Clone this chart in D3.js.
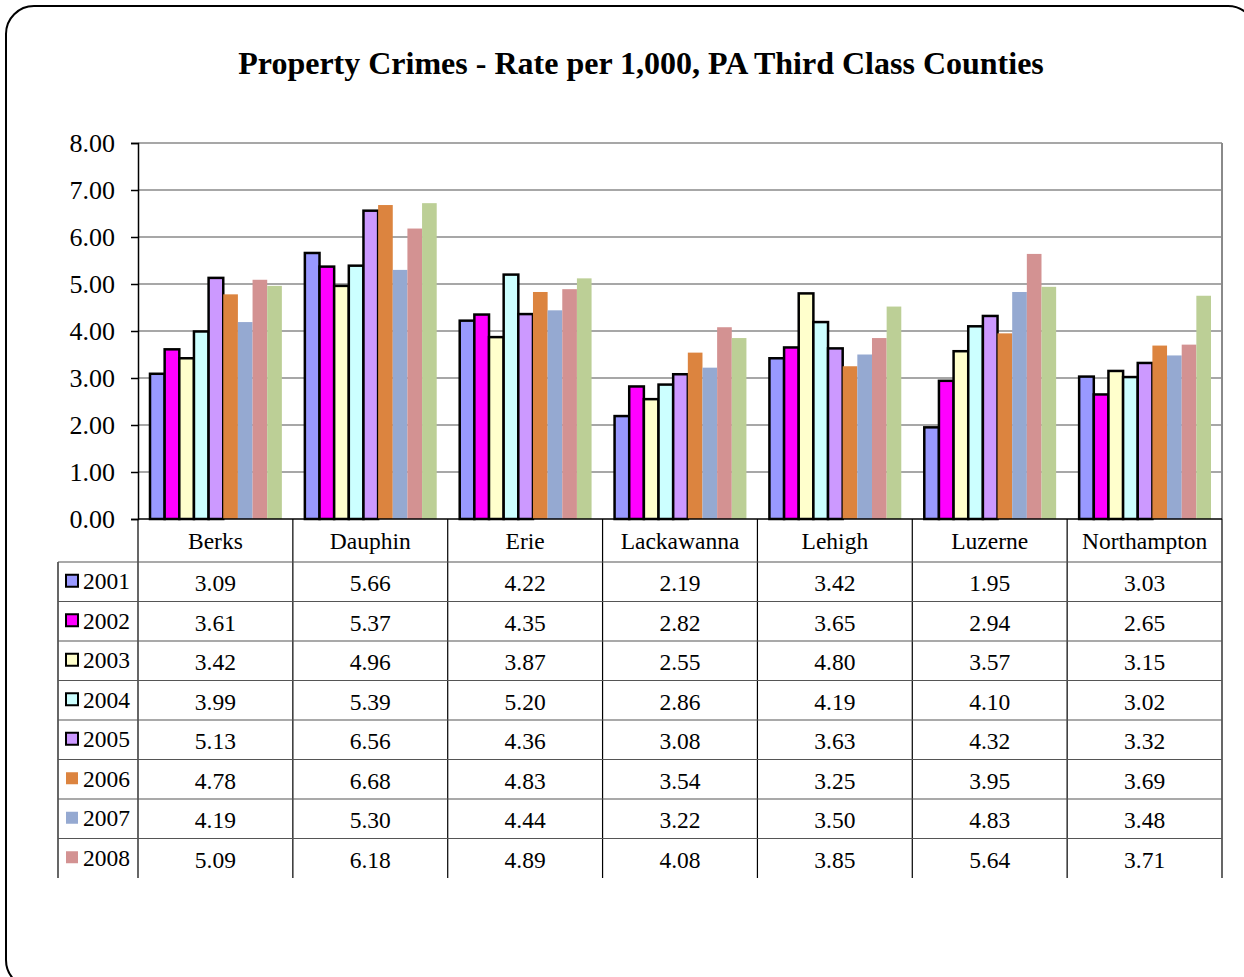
<!DOCTYPE html>
<html lang="en">
<head>
    <meta charset="utf-8"/>
    <title>Property Crimes - Rate per 1,000</title>
    <script src="https://d3js.org/d3.v7.min.js"></script>
    <style>
        html, body { margin: 0; padding: 0; background: #fff; }
        svg text { font-family: "Liberation Serif", "DejaVu Serif", serif; fill: black; }
    </style>
</head>
<body>
    <div id="chart"></div>

    <script>
        const counties = ["Berks", "Dauphin", "Erie", "Lackawanna", "Lehigh", "Luzerne", "Northampton"];
        const years = ["2001", "2002", "2003", "2004", "2005", "2006", "2007", "2008", "2009"];
        // one array per year, in county order
        const v2001 = [3.09, 5.66, 4.22, 2.19, 3.42, 1.95, 3.03];
        const v2002 = [3.61, 5.37, 4.35, 2.82, 3.65, 2.94, 2.65];
        const v2003 = [3.42, 4.96, 3.87, 2.55, 4.80, 3.57, 3.15];
        const v2004 = [3.99, 5.39, 5.20, 2.86, 4.19, 4.10, 3.02];
        const v2005 = [5.13, 6.56, 4.36, 3.08, 3.63, 4.32, 3.32];
        const v2006 = [4.78, 6.68, 4.83, 3.54, 3.25, 3.95, 3.69];
        const v2007 = [4.19, 5.30, 4.44, 3.22, 3.50, 4.83, 3.48];
        const v2008 = [5.09, 6.18, 4.89, 4.08, 3.85, 5.64, 3.71];
        const v2009 = [4.96, 6.72, 5.12, 3.85, 4.52, 4.94, 4.75]; // not in the table
        const yTicks = [0, 1, 2, 3, 4, 5, 6, 7, 8];
        const tableYears = years.slice(0, 8); // table stops at 2008

        const seriesValues = [v2001, v2002, v2003, v2004, v2005, v2006, v2007, v2008, v2009];
        const colors = ["#9999ff", "#ff00ff", "#ffffcc", "#ccffff", "#cc99ff", "#dc843f", "#95a9d1", "#d39292", "#bccf96"];
        const outlined = [true, true, true, true, true, false, false, false, false];

        const W = 1244, H = 977;
        const plot = {left: 138, right: 1222, top: 143, bottom: 519};
        const serif = '"Liberation Serif", "DejaVu Serif", serif';

        const svg = d3.select('#chart').append('svg')
            .attr('width', W)
            .attr('height', H);

        // outer rounded frame
        svg.append('rect')
            .attr('x', 6).attr('y', 6)
            .attr('width', 1250).attr('height', 982)
            .attr('rx', 28).attr('ry', 28)
            .attr('fill', 'white')
            .attr('stroke', 'black')
            .attr('stroke-width', 2);

        // title
        svg.append('text')
            .attr('x', 641).attr('y', 74)
            .attr('text-anchor', 'middle')
            .attr('font-family', serif)
            .style('font-size', '32px')
            .style('font-weight', 'bold')
            .text('Property Crimes - Rate per 1,000, PA Third Class Counties');

        const x0 = d3.scaleBand()
            .domain(counties)
            .range([plot.left, plot.right]);

        const x1 = d3.scaleBand()
            .domain(years)
            .range([12, x0.bandwidth() - 11]);

        const y = d3.scaleLinear()
            .domain([0, 8])
            .range([plot.bottom, plot.top]);

        // gridlines
        svg.append('g')
            .selectAll('line')
            .data(yTicks.slice(1))
            .enter().append('line')
            .attr('x1', plot.left).attr('x2', plot.right)
            .attr('y1', d => y(d)).attr('y2', d => y(d))
            .attr('stroke', '#8a8a8a')
            .attr('stroke-width', 1.5);

        // right border of plot area
        svg.append('line')
            .attr('x1', plot.right).attr('x2', plot.right)
            .attr('y1', plot.top).attr('y2', plot.bottom)
            .attr('stroke', '#8a8a8a')
            .attr('stroke-width', 2);

        // Y axis
        const yAxis = svg.append('g')
            .attr('transform', `translate(${plot.left},0)`)
            .call(d3.axisLeft(y).tickValues(yTicks).tickFormat(d3.format('.2f')).tickSize(7).tickPadding(16));
        yAxis.attr('font-family', serif);
        yAxis.select('.domain').attr('stroke', 'black').attr('stroke-width', 1.5);
        yAxis.selectAll('.tick line').attr('stroke', 'black').attr('stroke-width', 1.5);
        yAxis.selectAll('text')
            .attr('fill', 'black')
            .attr('font-family', serif)
            .style('font-size', '26px');

        // bars
        const groups = svg.append('g')
            .selectAll('g')
            .data(counties)
            .enter().append('g')
            .attr('transform', d => `translate(${x0(d)},0)`);

        groups.selectAll('rect')
            .data((c, ci) => years.map((yr, si) => ({yr, si, v: seriesValues[si][ci]})))
            .enter().append('rect')
            .attr('x', d => x1(d.yr))
            .attr('y', d => y(d.v))
            .attr('width', x1.bandwidth())
            .attr('height', d => y(0) - y(d.v))
            .attr('fill', d => colors[d.si])
            .attr('stroke', d => outlined[d.si] ? 'black' : 'none')
            .attr('stroke-width', 2.5);

        // X axis line
        svg.append('line')
            .attr('x1', plot.left).attr('x2', plot.right)
            .attr('y1', plot.bottom).attr('y2', plot.bottom)
            .attr('stroke', 'black')
            .attr('stroke-width', 1.5);

        // data table
        const headerH = 43, rowH = 39.5;
        const tableTop = plot.bottom + headerH;
        const tableBottom = tableTop + rowH * tableYears.length;
        const tableLeft = 58;

        const table = svg.append('g');

        // vertical lines
        const vx = counties.map(c => x0(c)).concat([plot.right]);
        table.selectAll('.vline')
            .data(vx)
            .enter().append('line')
            .attr('x1', d => d).attr('x2', d => d)
            .attr('y1', plot.bottom).attr('y2', tableBottom)
            .attr('stroke', 'black')
            .attr('stroke-width', 1.2);

        table.append('line')
            .attr('x1', tableLeft).attr('x2', tableLeft)
            .attr('y1', tableTop).attr('y2', tableBottom)
            .attr('stroke', 'black')
            .attr('stroke-width', 1.2);

        // horizontal lines
        table.selectAll('.hline')
            .data(tableYears)
            .enter().append('line')
            .attr('x1', tableLeft).attr('x2', plot.right)
            .attr('y1', (d, i) => tableTop + i * rowH)
            .attr('y2', (d, i) => tableTop + i * rowH)
            .attr('stroke', '#555')
            .attr('stroke-width', 1.2);

        // county header
        table.selectAll('.head')
            .data(counties)
            .enter().append('text')
            .attr('x', d => x0(d) + x0.bandwidth() / 2)
            .attr('y', plot.bottom + 30)
            .attr('text-anchor', 'middle')
            .attr('font-family', serif)
            .style('font-size', '23.5px')
            .text(d => d);

        // rows
        const rows = table.selectAll('.row')
            .data(tableYears)
            .enter().append('g')
            .attr('transform', (d, i) => `translate(0,${tableTop + i * rowH})`);

        rows.append('rect')
            .attr('x', 66).attr('y', (rowH - 12) / 2 - 1)
            .attr('width', 12).attr('height', 12)
            .attr('fill', (d, i) => colors[i])
            .attr('stroke', (d, i) => outlined[i] ? 'black' : 'none')
            .attr('stroke-width', 2);

        rows.append('text')
            .attr('x', 83).attr('y', 27)
            .attr('font-family', serif)
            .style('font-size', '23.5px')
            .text(d => d);

        rows.selectAll('.val')
            .data((d, i) => counties.map((c, ci) => ({c, v: seriesValues[i][ci]})))
            .enter().append('text')
            .attr('x', d => x0(d.c) + x0.bandwidth() / 2)
            .attr('y', 29)
            .attr('text-anchor', 'middle')
            .attr('font-family', serif)
            .style('font-size', '23.5px')
            .text(d => d.v.toFixed(2));
    </script>
</body>
</html>
